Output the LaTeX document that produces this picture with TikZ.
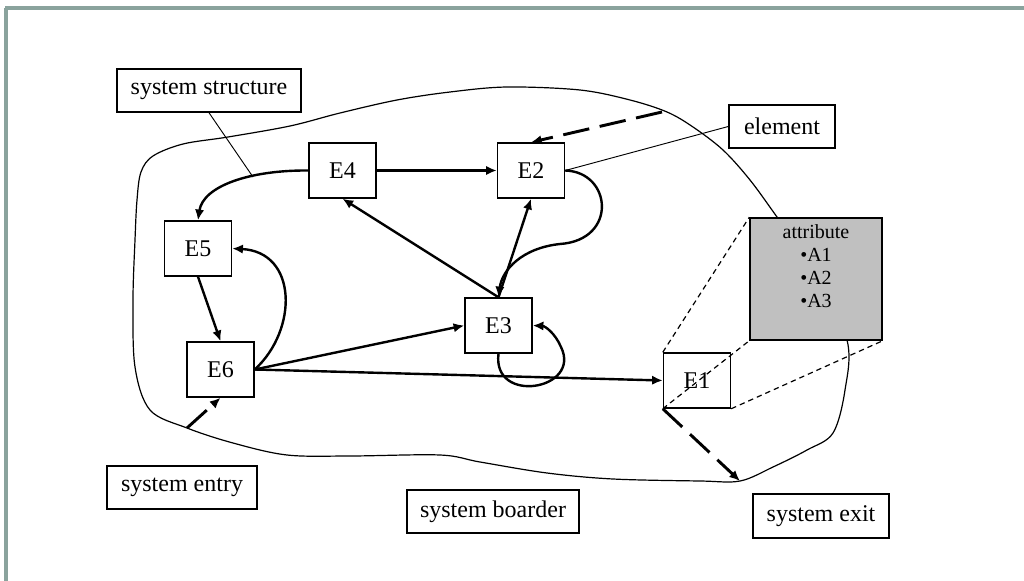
\documentclass[tikz,border=0pt]{standalone}
\usepackage{fontspec}
\setmainfont{Liberation Serif}
\usetikzlibrary{arrows.meta}
\definecolor{framecol}{RGB}{138,163,157}
\definecolor{attrgray}{RGB}{192,192,192}
\begin{document}
\begin{tikzpicture}[x=0.75pt,y=-0.75pt,
  every node/.style={font=\fontsize{18pt}{20pt}\selectfont, inner sep=0pt},
  elem/.style={draw, line width=1.1pt, fill=white, minimum width=50.25pt, minimum height=41.25pt},
  labelbox/.style={draw, line width=1.1pt, fill=white, minimum height=32.25pt},
  arr/.style={line width=1.8pt, -{Latex[length=8pt,width=7pt]}},
  dasharr/.style={line width=2.2pt, dash pattern=on 20pt off 8pt, -{Latex[length=8pt,width=7pt]}},
  proj/.style={line width=0.9pt, dash pattern=on 4pt off 3pt},
  callout/.style={line width=0.7pt},
  border/.style={line width=0.9pt}
]
\useasboundingbox (0,0) rectangle (1024,581);

% page frame
\draw[framecol, line width=2.4pt] (5,8) -- (1024,8);
\draw[framecol, line width=2.4pt] (6,8) -- (6,581);

% system border, freehand closed outline
\draw[border] plot[smooth cycle, tension=0.55] coordinates {
  (137,200) (141,172) (153,156) (183,144) (228,137) (290,126) (340,113)
  (397,100) (450,92) (507,87) (580,90) (630,100) (667,112) (693,127)
  (723,150) (750,180) (777,217) (815,270) (847,340) (845,390) (833,433)
  (807,450) (773,467) (740,481) (700,481) (613,479) (547,473) (480,462)
  (440,455) (350,456) (287,455) (233,443) (187,428) (150,410) (135,367)
  (133,300) (135,240)};

% points on the border
\coordinate (entryc) at (187,428);
\coordinate (topc) at (662,112);
\coordinate (exitc) at (740,481);
\coordinate (structc) at (253,177);

% elements
\node[elem] (E4) at (342.5,170.5) {E4};
\node[elem] (E2) at (531,170.5) {E2};
\node[elem] (E5) at (198,248.5) {E5};
\node[elem] (E3) at (498.5,325.5) {E3};
\node[elem] (E6) at (220.5,369.5) {E6};
\node[elem] (E1) at (697,380.5) {E1};

% attribute box
\node[draw, line width=1.1pt, fill=attrgray, minimum width=99pt, minimum height=91.5pt] (attr) at (816,279) {};
\node[anchor=north, align=center, font=\fontsize{15pt}{17.25pt}\selectfont] (attrtext) at (816,224)
  {attribute\\\textbullet A1\\\textbullet A2\\\textbullet A3};

% label boxes
\node[labelbox, minimum width=138pt] (SS) at (209,90.5) {system structure};
\node[labelbox, minimum width=79.5pt] (EL) at (782,126.5) {element};
\node[labelbox, minimum width=112.5pt] (SEN) at (182,487.5) {system entry};
\node[labelbox, minimum width=129pt] (SB) at (493,511.5) {system boarder};
\node[labelbox, minimum width=102pt, minimum height=33pt] (SEX) at (821,516) {system exit};

% callout lines
\draw[callout] (SS.south) -- (structc);
\draw[callout] (EL.west) -- (E2.east);

% projection of E1 onto its attributes
\draw[proj] (E1.north west) -- (attr.north west);
\draw[proj] (E1.south west) -- (attr.south west);
\draw[proj] (E1.south east) -- (attr.south east);

% relations between elements
\draw[arr] (E4.east) -- (E2.west);
\draw[arr] (E4.west) .. controls (250,170) and (203,186) .. (E5.north);
\draw[arr] (E3.north) -- (E4.south);
\draw[arr] (E3.north) -- (E2.south);
\draw[arr] (E2.east) .. controls (612,172) and (618,240) .. (560,244)
                     .. controls (522,248) and (502,270) .. (E3.north);
\draw[arr] (E3.south) .. controls (492,405) and (582,390) .. (561,347)
                      .. controls (555,333) and (545,326) .. (E3.east);
\draw[arr] (E6.east) -- (E3.west);
\draw[arr] (E6.east) -- (E1.west);
\draw[arr] (E6.east) .. controls (298,330) and (298,252) .. (E5.east);
\draw[arr] (E5.south) -- (E6.north);

% entry, input and exit
\draw[dasharr] (entryc) -- (E6.south);
\draw[dasharr] (topc) -- (E2.north);
\draw[dasharr] (E1.south west) -- (exitc);
\end{tikzpicture}
\end{document}
